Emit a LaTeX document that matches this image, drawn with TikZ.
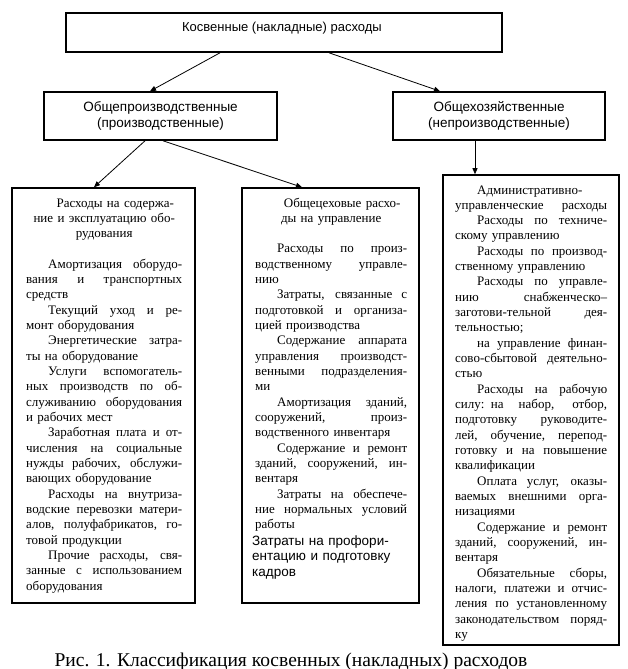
\documentclass[tikz,border=0pt]{standalone}
\usepackage{fontspec}
\setmainfont{Liberation Serif}
\newfontfamily\arialfont{Liberation Sans}
\usetikzlibrary{arrows.meta}
\newlength\indw
\setlength\indw{22pt}
\newcommand\jl[1]{\makebox[\linewidth][s]{\spaceskip=\fontdimen2\font plus 1fil\relax #1}\\}
\newcommand\il[1]{\makebox[\linewidth][s]{\spaceskip=\fontdimen2\font plus 1fil\relax\hspace*{\indw}#1}\\}
\newcommand\cl[1]{\makebox[\linewidth]{#1}\\}
\begin{document}
\begin{tikzpicture}[x=1pt,y=-1pt]
                \tikzset{box/.style={draw, line width=1.6pt, inner sep=0pt}}
                \tikzset{link/.style={-{Triangle[length=6pt,width=5pt]}, line width=0.8pt}}
                \tikzset{sans/.style={font=\arialfont\fontsize{13.5}{15.5}\selectfont, align=center}}
                \tikzset{body/.style={font=\fontsize{13}{15.33}\selectfont, inner sep=0pt, anchor=base west, align=left}}
                \useasboundingbox (0,0) rectangle (628,669);
                % upper levels
                \node[box, minimum width=436pt, minimum height=39pt] (top) at (284,32.5) {};
                \node[sans, font=\arialfont\fontsize{13}{15}\selectfont] (toptext) at (282,28) {Косвенные (накладные) расходы};
                \node[box, sans, minimum width=233pt, minimum height=48pt] (pro) at (160.5,116) {Общепроизводственные\\(производственные)};
                \node[box, sans, minimum width=212pt, minimum height=48pt] (hoz) at (499,116) {Общехозяйственные\\(непроизводственные)};
                % lower boxes
                \node[box, minimum width=183pt, minimum height=415pt] (eqp) at (103.5,395.5) {};
                \node[box, minimum width=177pt, minimum height=415pt] (shop) at (330.5,395.5) {};
                \node[box, minimum width=176pt, minimum height=470pt] (adm) at (531,410) {};
                \draw[link] ([xshift=-64pt]top.south) -- ([xshift=-10.5pt]pro.north);
                \draw[link] ([xshift=45pt]top.south) -- ([xshift=-59pt]hoz.north);
                \draw[link] ([xshift=-15.5pt]pro.south) -- ([xshift=-9.5pt]eqp.north);
                \draw[link] ([xshift=2.5pt]pro.south) -- ([xshift=-28.5pt]shop.north);
                \draw[link] ([xshift=-24pt]hoz.south) -- ([xshift=-56pt]adm.north);
                % texts of the boxes
                \node[body, text width=156pt] (eqptext) at (26,207) {
                    \cl{\hspace*{\indw}Расходы на содержа-}
                    \cl{ние и эксплуатацию обо-}
                    \cl{рудования}
                    \mbox{}\\
                    \il{Амортизация оборудо-}
                    \jl{вания и транспортных}
                    средств\\
                    \il{Текущий уход и ре-}
                    монт оборудования\\
                    \il{Энергетические затра-}
                    ты на оборудование\\
                    \il{Услуги вспомогатель-}
                    \jl{ных производств по об-}
                    \jl{служиванию оборудования}
                    и рабочих мест\\
                    \il{Заработная плата и от-}
                    \jl{числения на социальные}
                    \jl{нужды рабочих, обслужи-}
                    вающих оборудование\\
                    \il{Расходы на внутриза-}
                    \jl{водские перевозки матери-}
                    \jl{алов, полуфабрикатов, го-}
                    товой продукции\\
                    \il{Прочие расходы, свя-}
                    \jl{занные с использованием}
                    оборудования};
                \node[body, text width=152pt] (shoptext) at (255,207) {
                    \cl{\hspace*{\indw}Общецеховые расхо-}
                    \cl{ды на управление}
                    \mbox{}\\
                    \il{Расходы по произ-}
                    \jl{водственному управле-}
                    нию\\
                    \il{Затраты, связанные с}
                    \jl{подготовкой и организа-}
                    цией производства\\
                    \il{Содержание аппарата}
                    \jl{управления производст-}
                    \jl{венными подразделения-}
                    ми\\
                    \il{Амортизация зданий,}
                    \jl{сооружений, произ-}
                    водственного инвентаря\\
                    \il{Содержание и ремонт}
                    \jl{зданий, сооружений, ин-}
                    вентаря\\
                    \il{Затраты на обеспече-}
                    \jl{ние нормальных условий}
                    работы};
                \node[sans, align=left, anchor=base west, inner sep=0pt, text width=160pt] (proftext) at (252,545) {Затраты на профори-\\ентацию и подготовку\\кадров};
                \node[body, text width=152pt] (admtext) at (455,194) {
                    \hspace*{\indw}Административно-\\
                    \jl{управленческие расходы}
                    \il{Расходы по техниче-}
                    скому управлению\\
                    \il{Расходы по производ-}
                    ственному управлению\\
                    \il{Расходы по управле-}
                    \jl{нию снабженческо–}
                    \jl{заготови-тельной дея-}
                    тельностью;\\
                    \il{на управление финан-}
                    \jl{сово-сбытовой деятельно-}
                    стью\\
                    \il{Расходы на рабочую}
                    \jl{силу: на набор, отбор,}
                    \jl{подготовку руководите-}
                    \jl{лей, обучение, перепод-}
                    \jl{готовку и на повышение}
                    квалификации\\
                    \il{Оплата услуг, оказы-}
                    \jl{ваемых внешними орга-}
                    низациями\\
                    \il{Содержание и ремонт}
                    \jl{зданий, сооружений, ин-}
                    вентаря\\
                    \il{Обязательные сборы,}
                    \jl{налоги, платежи и отчис-}
                    \jl{ления по установленному}
                    \jl{законодательством поряд-}
                    ку};
                \node[font=\fontsize{19.5}{22}\selectfont, anchor=base] (caption) at (291,666) {Рис. 1. Классификация косвенных (накладных) расходов};
            \end{tikzpicture}
\end{document}
